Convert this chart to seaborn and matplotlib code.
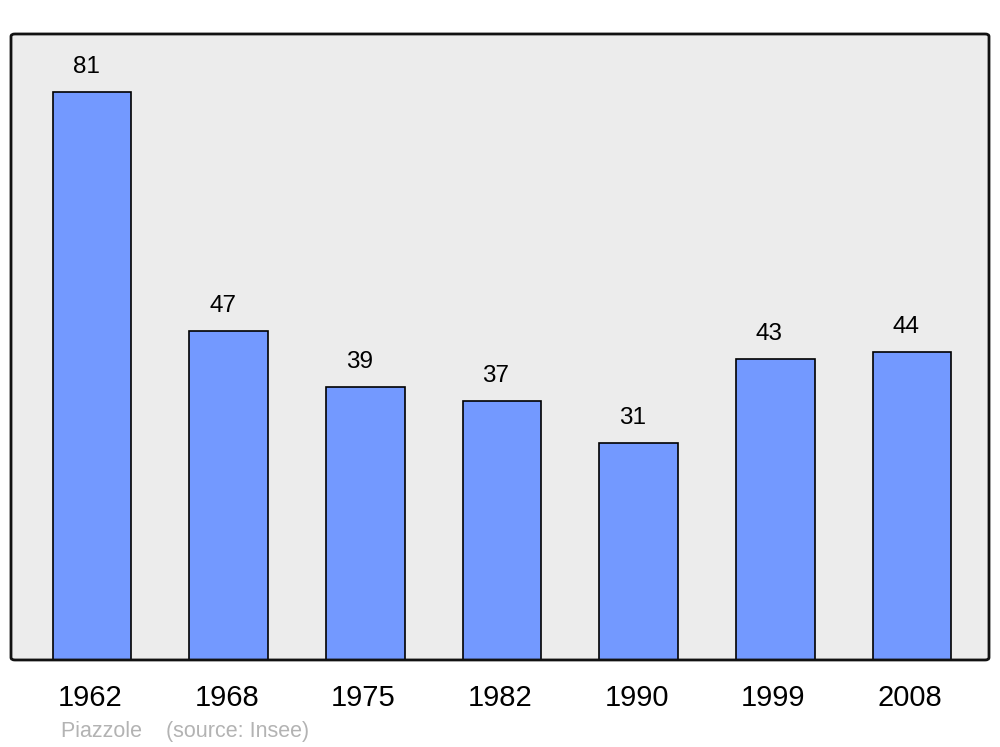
import numpy as np
import pandas as pd
import matplotlib
matplotlib.use('Agg')
import matplotlib.pyplot as plt
import matplotlib.transforms as mtransforms
import seaborn as sns
from matplotlib.patches import FancyBboxPatch

# data
years = ['1962', '1968', '1975', '1982', '1990', '1999', '2008']
population = [81, 47, 39, 37, 31, 43, 44]

df = pd.DataFrame({'year': years, 'population': population})

sns.set_style('white')
plt.rcParams['font.family'] = ['Liberation Sans', 'DejaVu Sans']

fig = plt.figure(figsize=(10, 7.47), dpi=100)
ax = fig.add_axes([0.011, 0.1165, 0.978, 0.838])
ax.set_facecolor('none')

sns.barplot(data=df, x='year', y='population', color='#7399ff', saturation=1,
            edgecolor='black', linewidth=1.2, width=0.575, ax=ax, zorder=2)

ax.set_xlim(-0.593, 6.564)
ax.set_ylim(0, 89.3)

# value labels above bars
for i, v in enumerate(population):
    ax.annotate(str(v), (i, v), xytext=(-6, 19), textcoords='offset pixels',
                ha='center', va='baseline', fontsize=17.5, color='black')

# rounded background and frame
bg = FancyBboxPatch((0, 0), 1, 1, boxstyle='round,pad=0,rounding_size=0.004',
                    transform=ax.transAxes, facecolor='#ececec', edgecolor='none',
                    zorder=0, clip_on=False)
ax.add_patch(bg)
frame = FancyBboxPatch((0, 0), 1, 1, boxstyle='round,pad=0,rounding_size=0.004',
                       transform=ax.transAxes, facecolor='none', edgecolor='#111111',
                       linewidth=2, zorder=5, clip_on=False)
ax.add_patch(frame)

for s in ax.spines.values():
    s.set_visible(False)
ax.set_yticks([])
ax.set_xlabel('')
ax.set_ylabel('')
ax.tick_params(axis='x', length=0, pad=17, labelsize=21, labelcolor='black')

# nudge year labels slightly left like the original
shift = mtransforms.ScaledTranslation(-2 / 100, 0, fig.dpi_scale_trans)
for lbl in ax.get_xticklabels():
    lbl.set_transform(lbl.get_transform() + shift)

fig.text(0.061, 0.013, 'Piazzole    (source: Insee)', color='#b3b3b3', fontsize=15.5,
         ha='left', va='baseline')

fig.savefig('out.png', dpi=100)
